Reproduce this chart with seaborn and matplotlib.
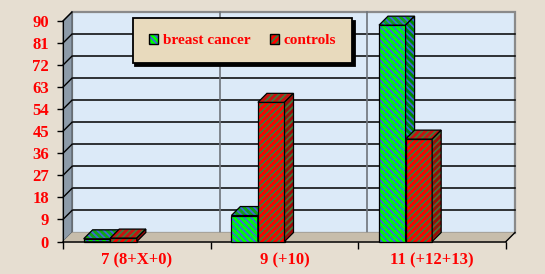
import numpy as np
import pandas as pd
import matplotlib
matplotlib.use("Agg")
import matplotlib.pyplot as plt
import seaborn as sns
from matplotlib.patches import Polygon, Rectangle
from matplotlib.legend_handler import HandlerTuple
from matplotlib import transforms

# ---- data ----
categories = ['7 (8+X+0)', '9 (+10)', '11 (+12+13)']
series_names = ['breast cancer', 'controls']
breast_cancer = [1.1, 10.6, 88.3]
controls = [1.4, 56.8, 41.8]
y_ticks = [0, 9, 18, 27, 36, 45, 54, 63, 72, 81, 90]

df = pd.DataFrame({
    'category': categories * 2,
    'series': [series_names[0]] * 3 + [series_names[1]] * 3,
    'value': breast_cancer + controls,
})

plt.rcParams['hatch.linewidth'] = 1.3
W, H = 545, 274
DPI = 100
fig = plt.figure(figsize=(W / DPI, H / DPI), dpi=DPI)
fig.patch.set_facecolor('#E6DED1')

L, R, B, T = 63, 506, 241.5, 21
ax = fig.add_axes([L / W, 1 - B / H, (R - L) / W, (B - T) / H])
ax.patch.set_visible(False)

front_cols = ['#00FF00', '#FF0000']
hatch_cols = ['#4060E0', '#3C7A3C']
top_cols = ['#10A810', '#C81010']
side_cols = ['#008C00', '#A00808']
hatches = ['\\\\\\\\\\', '/////']

sns.barplot(data=df, x='category', y='value', hue='series', hue_order=series_names,
            palette=front_cols, width=0.36, saturation=1, errorbar=None,
            legend=False, ax=ax, linewidth=0)
ax.set_xlim(-0.5, 2.5)
ax.set_ylim(0, 90)

DX, DY = 9, 9
off = transforms.ScaledTranslation(DX / DPI, DY / DPI, fig.dpi_scale_trans)

# back wall
ax.add_patch(Rectangle((0, 0), 1, 1, transform=ax.transAxes + off, facecolor='#DCEAF8',
                       edgecolor='#8A8A8A', lw=1.6, zorder=0, clip_on=False))
for y in y_ticks[1:-1]:
    ax.plot([-0.5, 2.5], [y, y], transform=ax.transData + off, color='black', lw=1.1,
            zorder=0.5, clip_on=False)
for x in [0.5, 1.5]:
    ax.plot([x, x], [0, 90], transform=ax.transData + off, color='#6E747A', lw=1.2,
            zorder=0.5, clip_on=False)

idt = transforms.IdentityTransform()
fl_b = ax.transAxes.transform((0, 0))
fl_t = ax.transAxes.transform((0, 1))
fr_b = ax.transAxes.transform((1, 0))
d = np.array([DX, DY])
ax.add_patch(Polygon([fl_b, fl_t, fl_t + d, fl_b + d], closed=True, transform=idt,
                     facecolor='#8D9BA9', edgecolor='#505860', lw=0.8, zorder=0.6, clip_on=False))
ax.add_patch(Polygon([fl_b, fr_b, fr_b + d, fl_b + d], closed=True, transform=idt,
                     facecolor='#C7BDAB', edgecolor='none', zorder=0.6, clip_on=False))
ax.plot([fr_b[0], fr_b[0] + DX], [fr_b[1], fr_b[1] + DY], transform=idt, color='black',
        lw=1.0, zorder=0.7, clip_on=False)
for y in y_ticks[1:]:
    p = ax.transData.transform((-0.5, y))
    ax.plot([p[0], p[0] + DX], [p[1], p[1] + DY], transform=idt, color='black', lw=1.0,
            zorder=0.7, clip_on=False)

# bars: shift and add 3D faces
z = 2
for i, cont in enumerate(ax.containers):
    for bar in cont:
        bar.set_x(bar.get_x() - 0.18)
for j in range(len(categories)):
    for i, cont in enumerate(ax.containers):
        bar = cont[j]
        bar.set_hatch(hatches[i])
        bar.set_edgecolor(hatch_cols[i])
        bar.set_linewidth(0)
        bar.set_zorder(z)
        x0, x1 = bar.get_x(), bar.get_x() + bar.get_width()
        h = bar.get_height()
        p00 = ax.transData.transform((x0, 0))
        p10 = ax.transData.transform((x1, 0))
        p11 = ax.transData.transform((x1, h))
        p01 = ax.transData.transform((x0, h))
        ax.add_patch(Polygon([p00, p10, p11, p01], closed=True, transform=idt, fill=False,
                             edgecolor='black', lw=0.9, zorder=z + 0.1, clip_on=False))
        ax.add_patch(Polygon([p01, p11, p11 + d, p01 + d], closed=True, transform=idt,
                             facecolor=top_cols[i], edgecolor=hatch_cols[i], hatch=hatches[i],
                             lw=0, zorder=z + 0.2, clip_on=False))
        ax.add_patch(Polygon([p01, p11, p11 + d, p01 + d], closed=True, transform=idt,
                             fill=False, edgecolor='black', lw=0.9, zorder=z + 0.25, clip_on=False))
        ax.add_patch(Polygon([p10, p11, p11 + d, p10 + d], closed=True, transform=idt,
                             facecolor=side_cols[i], edgecolor=hatch_cols[i], hatch=hatches[i],
                             lw=0, zorder=z + 0.3, clip_on=False))
        ax.add_patch(Polygon([p10, p11, p11 + d, p10 + d], closed=True, transform=idt,
                             fill=False, edgecolor='black', lw=0.9, zorder=z + 0.35, clip_on=False))
        z += 1

# axes styling
font = dict(family='Liberation Serif', weight='bold', size=12)
for s in ['top', 'right']:
    ax.spines[s].set_visible(False)
ax.spines['left'].set_color('black')
ax.spines['bottom'].set_color('black')
ax.spines['left'].set_zorder(1)
ax.spines['bottom'].set_linewidth(1.1)
ax.set_yticks(y_ticks)
ax.set_yticklabels([str(v) for v in y_ticks], fontdict=font, color='red')
ax.set_xticks(range(len(categories)))
ax.set_xticklabels(categories, fontdict=font, color='red')
ax.set_xticks([-0.5, 0.5, 1.5, 2.5], minor=True)
ax.tick_params(axis='x', which='major', length=0, pad=8)
ax.tick_params(axis='x', which='minor', length=5, width=1, color='black', direction='out')
ax.tick_params(axis='y', length=4, width=1, color='black', direction='out', pad=6)
ax.set_xlabel('')
ax.set_ylabel('')

# legend
lfont = dict(family='Liberation Serif', weight='bold', size=11)
handles = [(Rectangle((0, 0), 1, 1, facecolor=front_cols[i], edgecolor=hatch_cols[i],
                      hatch=hatches[i], lw=0),
            Rectangle((0, 0), 1, 1, fill=False, edgecolor='black', lw=1.0))
           for i in range(2)]
leg = ax.legend(handles, series_names, ncol=2, loc='center',
                handler_map={tuple: HandlerTuple(ndivide=1, pad=0)},
                bbox_to_anchor=(242.5 / W, 1 - 40.5 / H), bbox_transform=fig.transFigure,
                frameon=True, fancybox=False, edgecolor='black', facecolor='#E8DABD',
                framealpha=1, prop=lfont, labelcolor='red', handlelength=0.6,
                handleheight=0.6, handletextpad=0.3, columnspacing=1.3, borderpad=1.05,
                shadow={'color': 'black', 'alpha': 1})
leg.get_frame().set_linewidth(1.3)
leg.set_zorder(50)

fig.savefig('out.png', dpi=DPI, facecolor=fig.get_facecolor())
